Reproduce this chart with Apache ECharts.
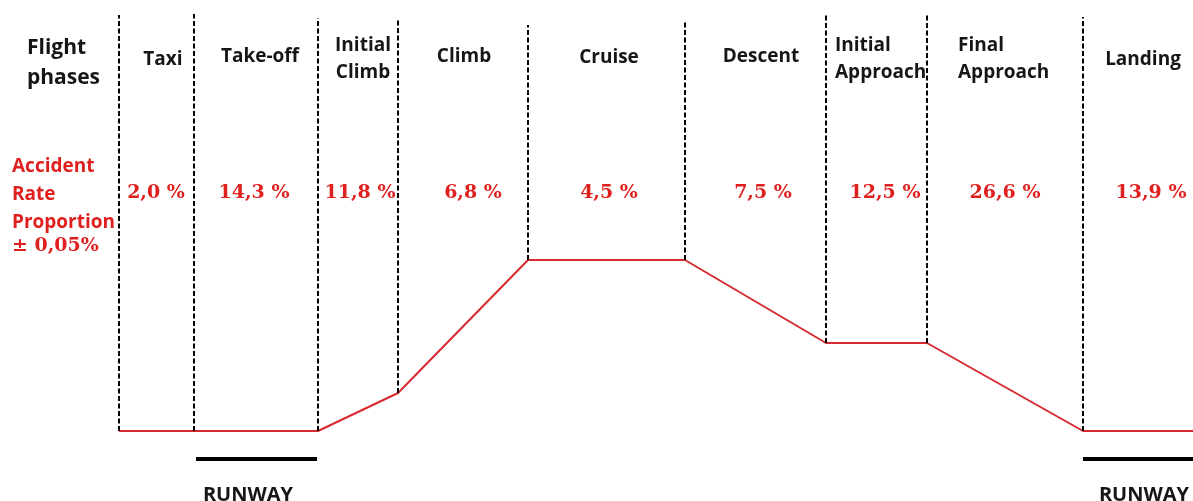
<!DOCTYPE html>
<html><head><meta charset="utf-8">
<script src="https://cdn.jsdelivr.net/npm/echarts@6/dist/echarts.min.js"></script>
<style>html,body{margin:0;padding:0;background:#fff}#c{width:1193px;height:501px}</style>
</head><body><div id="c"></div>
<script>
// ---- data ----
const phases = ['Taxi','Take-off','Initial\nClimb','Climb','Cruise','Descent','Initial\nApproach','Final\nApproach','Landing'];
const accidentRates = ['2,0','14,3','11,8','6,8','4,5','7,5','12,5','26,6','13,9'];
const boundaries = [119,194,318,398,528,685,826,927,1083,1193];      // timeline positions of phase limits
const profileAltitude = [0,0,0,38,171,171,88,88,0,0];                  // relative altitude at each limit
const dividerTop = [416,417,413,413,406,409,416,416,414];               // top of each dashed divider
const runways = [[196,317],[1083,1193]];
const runwayLevel = -28;

// ---- layout (text anchors, in axis units) ----
const nameX = [163,260,363,464,609,761,835,958,1143];
const nameAlign = ['center','center','center','center','center','center','left','left','center'];
const nameAlt = [371,374,372,374,373,374,372,372,371];
const rateX = [156,254,360,473,609,763,885,1005,1151];
const rateAlt = 238;
const runwayTextX = [248,1144];
const runwayTextAlt = -64;

const RED_LINE = '#d62a2f', RED_TEXT = '#e0201e', DARK = '#161616';

const chart = echarts.init(document.getElementById('c'));
const series = [];
series.push({type:'line', data: boundaries.map((x,i)=>[x, profileAltitude[i]]), symbol:'none', silent:true,
  lineStyle:{color:RED_LINE, width:2}, z:2});
boundaries.slice(0, boundaries.length-1).forEach((x,i)=>{
  series.push({type:'line', data:[[x, profileAltitude[i]],[x, dividerTop[i]]], symbol:'none', silent:true,
    lineStyle:{color:'#000', width:2, type:[5,2.5]}, z:3});
});
runways.forEach(r=>{
  series.push({type:'line', data:[[r[0], runwayLevel],[r[1], runwayLevel]], symbol:'none', silent:true,
    lineStyle:{color:'#000', width:4, cap:'butt'}, z:3});
});

chart.setOption({
  animation:false,
  grid:{left:0,right:0,top:0,bottom:0},
  xAxis:{type:'value', min:0, max:1193, show:false},
  yAxis:{type:'value', min:-70, max:431, show:false},
  series
});

const px = (x,y)=>chart.convertToPixel({gridIndex:0},[x,y]);
const graphic = [];
phases.forEach((p,i)=>{
  const [x,y] = px(nameX[i], nameAlt[i]);
  graphic.push({type:'text', silent:true, style:{text:p, x, y, align:nameAlign[i], verticalAlign:'middle',
    font:'bold 19px "Open Sans"', fill:DARK, lineHeight:27}});
});
accidentRates.forEach((v,i)=>{
  const [x,y] = px(rateX[i], rateAlt);
  graphic.push({type:'text', silent:true, style:{text:v+' %', x, y, align:'center', verticalAlign:'middle',
    font:'bold 19px "DejaVu Serif"', fill:RED_TEXT}});
});
runwayTextX.forEach(xx=>{
  const [x,y] = px(xx, runwayTextAlt);
  graphic.push({type:'text', silent:true, style:{text:'RUNWAY', x, y, align:'center', verticalAlign:'middle',
    font:'bold 20px "Open Sans"', fill:DARK}});
});
graphic.push({type:'text', silent:true, left:27, top:33, style:{text:'Flight\nphases', font:'bold 21px "Open Sans"', fill:DARK, lineHeight:30}});
graphic.push({type:'text', silent:true, left:12, top:153, style:{text:'Accident\nRate\nProportion', font:'bold 19px "Open Sans"', fill:RED_TEXT, lineHeight:28}});
graphic.push({type:'text', silent:true, left:12, top:237, style:{text:'± 0,05%', font:'bold 19px "DejaVu Serif"', fill:RED_TEXT}});
chart.setOption({graphic});
</script>
</body></html>
